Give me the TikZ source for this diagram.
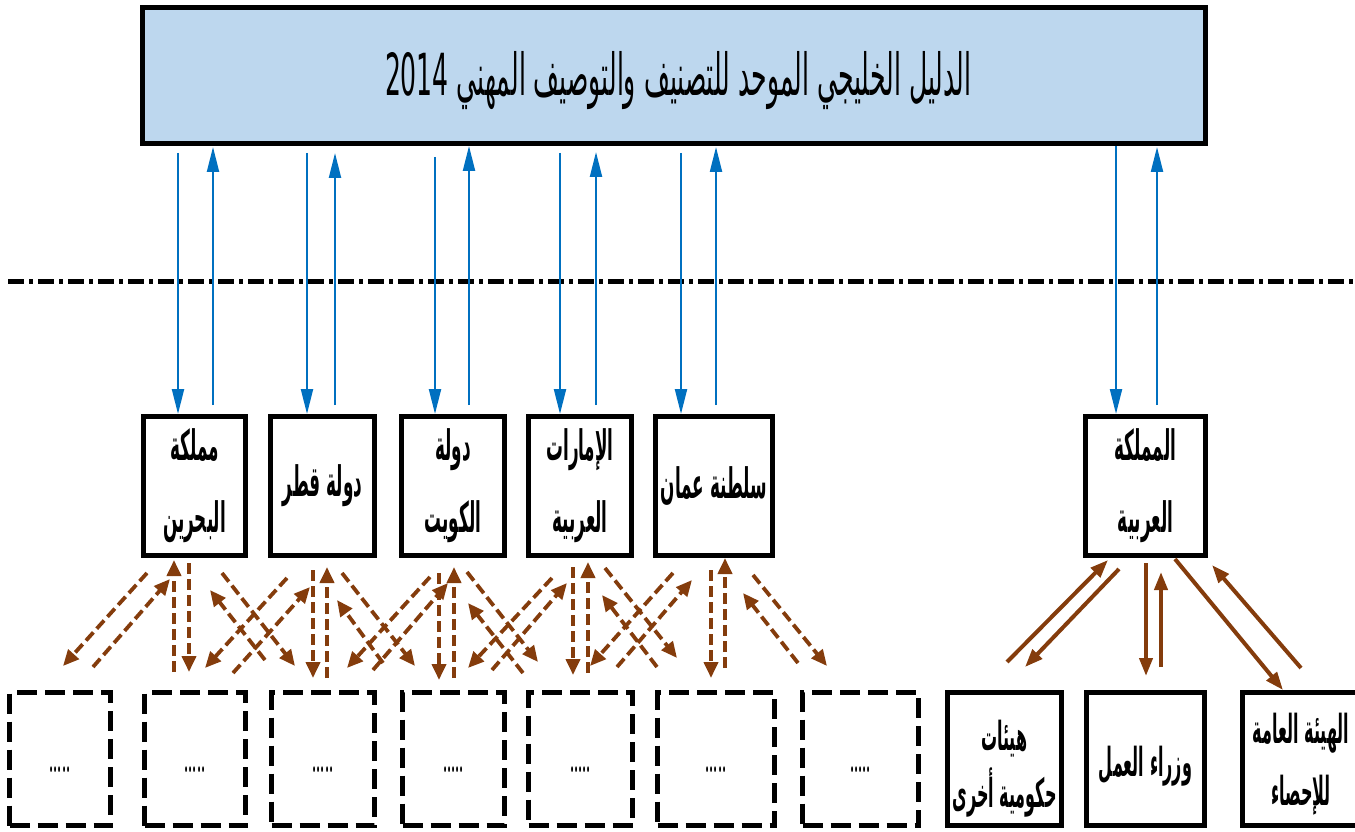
\documentclass[tikz,border=0pt]{standalone}
\usepackage{fontspec}
\usetikzlibrary{arrows.meta}
\TeXXeTstate=1
\newfontfamily\arfont[Script=Arabic,FakeStretch=0.4]{DejaVu Sans Bold}
\newfontfamily\artitle[Script=Arabic]{DejaVu Sans}
\newcommand\shiftdown[2]{\raisebox{-#1}[\height][\depth]{#2}}
\newcommand\twolines[2]{\begin{tabular}{@{}c@{}}#1\\#2\end{tabular}}
\newcommand\dotsfill{\raisebox{-13pt}[0pt][0pt]{\scalebox{0.6}[1.8]{.....}}}
\definecolor{bluearr}{HTML}{0070C0}
\definecolor{brownarr}{HTML}{843C0C}
\definecolor{titlefill}{HTML}{BDD7EE}
\begin{document}
\begin{tikzpicture}[x=1pt,y=-1pt,
  titlebox/.style={draw=black,line width=5pt,fill=titlefill,minimum width=1063pt,minimum height=136pt,inner sep=0pt},
  country/.style={draw=black,line width=5pt,minimum height=139pt,inner sep=0pt,align=center,font={\arfont\fontsize{42}{72}\selectfont}},
  dbox/.style={draw=black,line width=5pt,dash pattern=on 20pt off 8pt,minimum height=133pt,inner sep=0pt,font={\bfseries\fontsize{22}{22}\selectfont}},
  sbox/.style={draw=black,line width=5pt,minimum height=133pt,inner sep=0pt,align=center,font={\arfont\fontsize{40}{55}\selectfont}},
  bluearrow/.style={draw=bluearr,line width=2.2pt,-{Triangle[length=25pt,width=12pt]}},
  bdash/.style={draw=brownarr,line width=3.8pt,dash pattern=on 11pt off 5pt,-{Triangle[length=16pt,width=14pt]}},
  bsolid/.style={draw=brownarr,line width=4pt,-{Triangle[length=18pt,width=13pt]}},
  sepline/.style={draw=black,line width=5pt,dash pattern=on 16pt off 5pt on 4pt off 5pt}
]
\useasboundingbox (0,0) rectangle (1355,832);

% title
\node[titlebox] (top) at (674,75.5) {\hspace*{8pt}\shiftdown{5pt}{\resizebox{586pt}{\height}{\artitle\fontsize{58}{62}\selectfont\beginR الدليل الخليجي الموحد للتصنيف والتوصيف المهني \beginL2014\endL\endR}}};

% separator
\coordinate (sepL) at (8,281);
\coordinate (sepR) at (1355,281);
\draw[sepline] (sepL) -- (sepR);

% country boxes
\node[country,minimum width=102pt] (c1) at (194.5,486) {\beginR مملكة\endR\\\beginR البحرين\endR};
\node[country,minimum width=104pt] (c2) at (322.5,486) {\beginR دولة قطر\endR};
\node[country,minimum width=103pt] (c3) at (453,486) {\beginR دولة\endR\\\beginR الكويت\endR};
\node[country,minimum width=103pt] (c4) at (580,486) {\beginR الإمارات\endR\\\beginR العربية\endR};
\node[country,minimum width=117pt] (c5) at (714,486) {\beginR سلطنة عمان\endR};
\node[country,minimum width=120pt] (c6) at (1145.5,486) {\beginR المملكة\endR\\\beginR العربية\endR};

% dashed bottom boxes
\node[dbox,minimum width=101pt] (A) at (60,759) {\dotsfill};
\node[dbox,minimum width=101pt] (B) at (195,759) {\dotsfill};
\node[dbox,minimum width=103pt] (C) at (323,759) {\dotsfill};
\node[dbox,minimum width=102pt] (D) at (453.5,759) {\dotsfill};
\node[dbox,minimum width=104pt] (E) at (580.5,759) {\dotsfill};
\node[dbox,minimum width=117pt] (F) at (716,759) {\dotsfill};
\node[dbox,minimum width=116pt] (G) at (860.5,759) {\dotsfill};

% right bottom boxes
\node[sbox,minimum width=114pt] (R1) at (1004.5,759) {\shiftdown{9pt}{\twolines{\beginR هيئات\endR}{\beginR حكومية أخرى\endR}}};
\node[sbox,minimum width=118pt] (R2) at (1145.5,759) {\shiftdown{7pt}{\beginR وزراء العمل\endR}};
\node[sbox,minimum width=117pt,font={\arfont\fontsize{40}{62}\selectfont}] (R3) at (1301,759) {\shiftdown{3pt}{\twolines{\beginR الهيئة العامة\endR}{\beginR للإحصاء\endR}}};

% blue arrows
\draw[bluearrow] ([shift={(-496,7)}]top.south) -- ([shift={(-16.5,0)}]c1.north);
\draw[bluearrow] ([shift={(18.5,-9)}]c1.north) -- ([shift={(-461,1)}]top.south);
\draw[bluearrow] ([shift={(-367,7)}]top.south) -- ([shift={(-15.5,0)}]c2.north);
\draw[bluearrow] ([shift={(12.5,-9)}]c2.north) -- ([shift={(-339,7)}]top.south);
\draw[bluearrow] ([shift={(-239,11)}]top.south) -- ([shift={(-18,0)}]c3.north);
\draw[bluearrow] ([shift={(16,-9)}]c3.north) -- ([shift={(-205,0)}]top.south);
\draw[bluearrow] ([shift={(-114,7)}]top.south) -- ([shift={(-20,0)}]c4.north);
\draw[bluearrow] ([shift={(16,-9)}]c4.north) -- ([shift={(-78,6)}]top.south);
\draw[bluearrow] ([shift={(7,7)}]top.south) -- ([shift={(-33,0)}]c5.north);
\draw[bluearrow] ([shift={(2,-9)}]c5.north) -- ([shift={(42,1)}]top.south);
\draw[bluearrow] ([shift={(442,0)}]top.south) -- ([shift={(-29.5,0)}]c6.north);
\draw[bluearrow] ([shift={(11.5,-9)}]c6.north) -- ([shift={(483,1)}]top.south);

% brown dashed arrows: box 1
\draw[bdash] ([shift={(-47.5,15)}]c1.south) -- ([shift={(3,-24)}]A.north);
\draw[bdash] ([shift={(33,-23)}]A.north) -- ([shift={(-24.5,21)}]c1.south);
\draw[bdash] ([shift={(-21,-18)}]B.north) -- ([shift={(-20.5,2)}]c1.south);
\draw[bdash] ([shift={(-5.5,5)}]c1.south) -- ([shift={(-6,-18)}]B.north);
\draw[bdash] ([shift={(27.5,15)}]c1.south) -- ([shift={(-28,-24)}]C.north);
\draw[bdash] ([shift={(-58,-30)}]C.north) -- ([shift={(15.5,32)}]c1.south);
% box 2
\draw[bdash] ([shift={(-35.5,20)}]c2.south) -- ([shift={(10,-22)}]B.north);
\draw[bdash] ([shift={(38,-17)}]B.north) -- ([shift={(-12.5,29)}]c2.south);
\draw[bdash] ([shift={(-9.5,12)}]c2.south) -- ([shift={(-10,-12)}]C.north);
\draw[bdash] ([shift={(4,-12)}]C.north) -- ([shift={(4.5,9)}]c2.south);
\draw[bdash] ([shift={(19.5,15)}]c2.south) -- ([shift={(-38.5,-24)}]D.north);
\draw[bdash] ([shift={(-70.5,-27)}]D.north) -- ([shift={(14.5,42)}]c2.south);
% box 3
\draw[bdash] ([shift={(-23,19)}]c3.south) -- ([shift={(24,-22)}]C.north);
\draw[bdash] ([shift={(50,-20)}]C.north) -- ([shift={(-5,25)}]c3.south);
\draw[bdash] ([shift={(-14,15)}]c3.south) -- ([shift={(-14.5,-10)}]D.north);
\draw[bdash] ([shift={(0.5,-12)}]D.north) -- ([shift={(1,9)}]c3.south);
\draw[bdash] ([shift={(14,14)}]c3.south) -- ([shift={(-42.5,-28)}]E.north);
\draw[bdash] ([shift={(-57.5,-17)}]E.north) -- ([shift={(15,45)}]c3.south);
% box 4
\draw[bdash] ([shift={(-28,20)}]c4.south) -- ([shift={(14.5,-22)}]D.north);
\draw[bdash] ([shift={(38.5,-20)}]D.north) -- ([shift={(-13,25)}]c4.south);
\draw[bdash] ([shift={(-7,9)}]c4.south) -- ([shift={(-7.5,-15)}]E.north);
\draw[bdash] ([shift={(7.5,-17)}]E.north) -- ([shift={(8,4)}]c4.south);
\draw[bdash] ([shift={(25,10)}]c4.south) -- ([shift={(-39,-32)}]F.north);
\draw[bdash] ([shift={(-59,-23)}]F.north) -- ([shift={(22,37)}]c4.south);
% box 5
\draw[bdash] ([shift={(-41,15)}]c5.south) -- ([shift={(9.5,-24)}]E.north);
\draw[bdash] ([shift={(36.5,-23)}]E.north) -- ([shift={(-22,22)}]c5.south);
\draw[bdash] ([shift={(-3,12)}]c5.south) -- ([shift={(-5,-12)}]F.north);
\draw[bdash] ([shift={(9,-22)}]F.north) -- ([shift={(11,0)}]c5.south);
\draw[bdash] ([shift={(39,17)}]c5.south) -- ([shift={(-33.5,-24)}]G.north);
\draw[bdash] ([shift={(-62.5,-27)}]G.north) -- ([shift={(29,35)}]c5.south);

% brown solid arrows (right group)
\draw[bsolid] ([shift={(2.5,-28)}]R1.north) -- ([shift={(-37.5,2)}]c6.south);
\draw[bsolid] ([shift={(-26.5,11)}]c6.south) -- ([shift={(20.5,-23)}]R1.north);
\draw[bsolid] ([shift={(0.5,5)}]c6.south) -- ([shift={(0.5,-14)}]R2.north);
\draw[bsolid] ([shift={(15.5,-23)}]R2.north) -- ([shift={(15.5,14)}]c6.south);
\draw[bsolid] ([shift={(29.5,1)}]c6.south) -- ([shift={(-18,0)}]R3.north);
\draw[bsolid] ([shift={(0,-22)}]R3.north) -- ([shift={(66.5,7)}]c6.south);
\end{tikzpicture}
\end{document}
